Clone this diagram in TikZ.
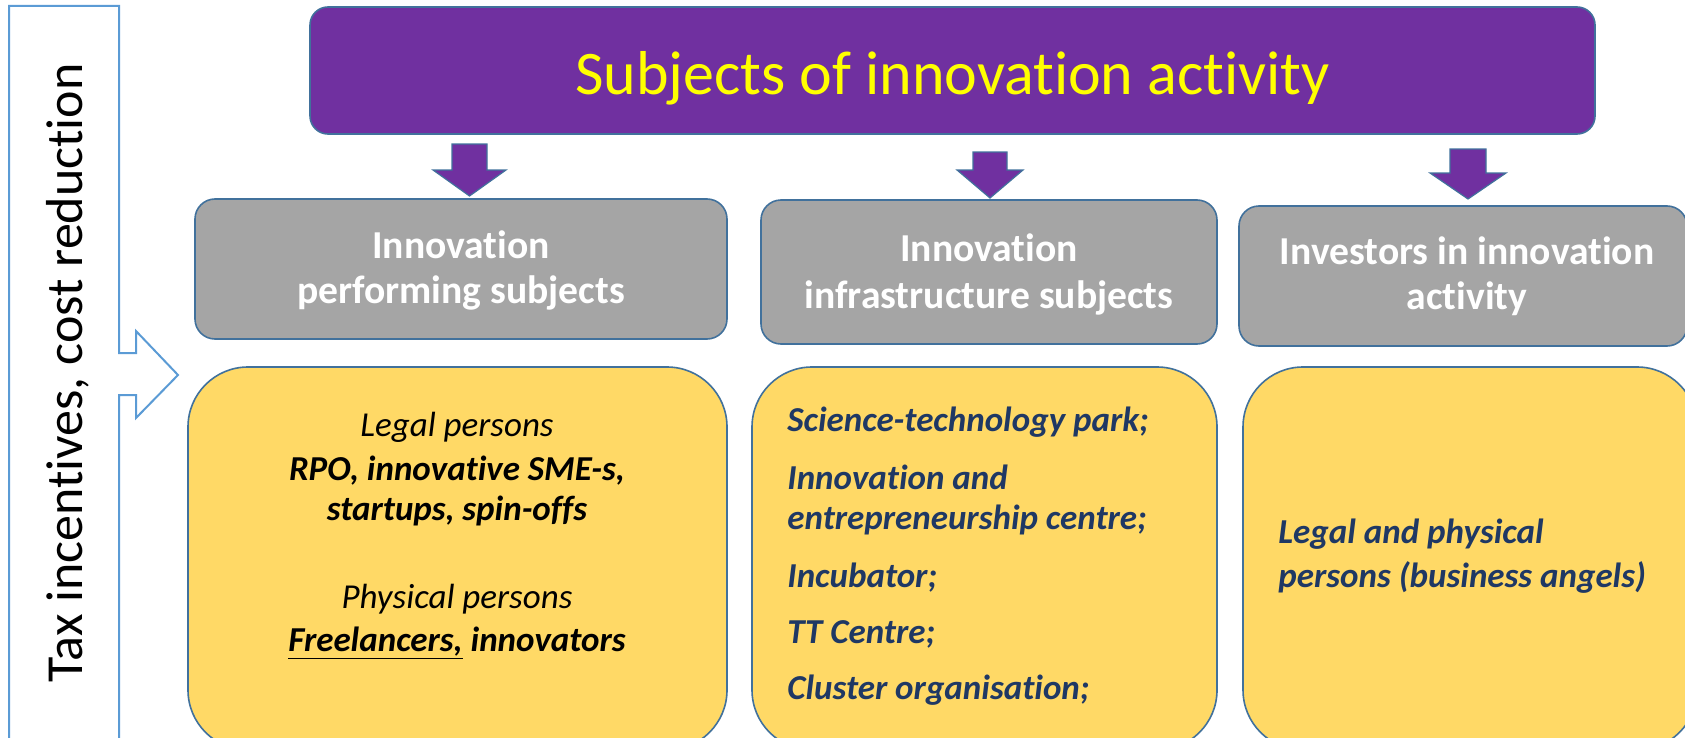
\documentclass[tikz,border=0pt]{standalone}
\usepackage{fontspec}
\setmainfont{Carlito}[Ligatures=NoCommon]
\definecolor{purp}{HTML}{7030A0}
\definecolor{outlc}{HTML}{41719C}
\definecolor{grayf}{HTML}{A5A5A5}
\definecolor{yelf}{HTML}{FFD966}
\definecolor{navy}{HTML}{1F3864}
\definecolor{callout}{HTML}{5B9BD5}
\definecolor{titley}{HTML}{FFFF00}
\begin{document}
\begin{tikzpicture}[x=0.5pt,y=-0.5pt,
  outl/.style={draw=outlc, line width=0.8pt},
  titlebox/.style={outl, fill=purp, rounded corners=9pt, inner sep=0pt},
  graybox/.style={outl, fill=grayf, rounded corners=10pt, inner sep=0pt},
  yelbox/.style={outl, fill=yelf, rounded corners=30pt, inner sep=0pt},
  blockarrow/.style={draw=outlc, fill=purp, line width=0.6pt, line join=miter},
  calloutline/.style={draw=callout, line width=1pt, line join=miter},
  titletext/.style={anchor=base, inner sep=0pt, text=titley, font=\fontsize{31}{37}\selectfont},
  sidetext/.style={anchor=base, inner sep=0pt, rotate=90, font=\fontsize{26}{31}\selectfont},
  graytext/.style={anchor=base, inner sep=0pt, text=white, font=\fontsize{19.8}{24}\selectfont\bfseries},
  ytextc/.style={anchor=base, inner sep=0pt, text=black, font=\fontsize{17.5}{21}\selectfont},
  ytextl/.style={anchor=base west, inner sep=0pt, text=navy, font=\fontsize{17.5}{21}\selectfont\bfseries\itshape}
]
\useasboundingbox (0,0) rectangle (1685,738);
\clip (0,0) rectangle (1685,738);

% left callout
\path[calloutline] (9,6) -- (119,6) -- (119,353) -- (136,353) -- (136,331)
  -- (178,375) -- (136,418) -- (136,395) -- (119,395) -- (119,780) -- (9,780) -- cycle;
\node[sidetext] (side) at (82,373) {Tax incentives, cost reduction};

% title
\node[titlebox, minimum width=642.5pt, minimum height=63.5pt] (top) at (952.5,70.5) {};
\node[titletext] (toptxt) at (952.5,95) {Subjects of innovation activity};

% block arrows
\path[blockarrow] (452,144) -- (487,144) -- (487,170) -- (506,170) -- (469.5,196)
  -- (433,170) -- (452,170) -- cycle;
\path[blockarrow] (973,152) -- (1007,152) -- (1007,170) -- (1023,170) -- (990,198)
  -- (957,170) -- (973,170) -- cycle;
\path[blockarrow] (1450,149) -- (1486,149) -- (1486,173) -- (1506,173) -- (1468,199)
  -- (1430,173) -- (1450,173) -- cycle;

% gray boxes
\node[graybox, minimum width=266pt, minimum height=70pt] (g1) at (461,269) {};
\node[graytext] (g1a) at (461,258) {Innovation};
\node[graytext] (g1b) at (461,303) {performing subjects};
\node[graybox, minimum width=228pt, minimum height=72pt] (g2) at (989,272) {};
\node[graytext] (g2a) at (989,261) {Innovation};
\node[graytext] (g2b) at (989,308) {infrastructure subjects};
\node[graybox, minimum width=224pt, minimum height=70pt] (g3) at (1463,276) {};
\node[graytext] (g3a) at (1467,264) {Investors in innovation};
\node[graytext] (g3b) at (1467,309) {activity};

% yellow boxes
\node[yelbox, minimum width=269.5pt, minimum height=191.5pt] (y1) at (457.5,558.5) {};
\node[yelbox, minimum width=232.5pt, minimum height=191.5pt] (y2) at (984.5,558.5) {};
\node[yelbox, minimum width=227pt, minimum height=191.5pt] (y3) at (1470,558.5) {};

\node[ytextc, font=\fontsize{17.5}{21}\selectfont\itshape] (l1) at (457,436) {Legal persons};
\node[ytextc, font=\fontsize{17.5}{21}\selectfont\bfseries\itshape] (l2) at (457,480) {RPO, innovative SME-s,};
\node[ytextc, font=\fontsize{17.5}{21}\selectfont\bfseries\itshape] (l3) at (457,520) {startups, spin-offs};
\node[ytextc, font=\fontsize{17.5}{21}\selectfont\itshape] (l4) at (457,608) {Physical persons};
\node[ytextc, font=\fontsize{17.5}{21}\selectfont\bfseries\itshape] (l5) at (457,651) {\underline{Freelancers,} innovators};

\node[ytextl] (m1) at (787,431) {Science-technology park;};
\node[ytextl] (m2) at (787,489) {Innovation and};
\node[ytextl] (m3) at (787,529) {entrepreneurship centre;};
\node[ytextl] (m4) at (787,587) {Incubator;};
\node[ytextl] (m5) at (787,643) {TT Centre;};
\node[ytextl] (m6) at (787,699) {Cluster organisation;};

\node[ytextl] (r1) at (1278,543) {Legal and physical};
\node[ytextl] (r2) at (1278,587) {persons (business angels)};
\end{tikzpicture}
\end{document}
